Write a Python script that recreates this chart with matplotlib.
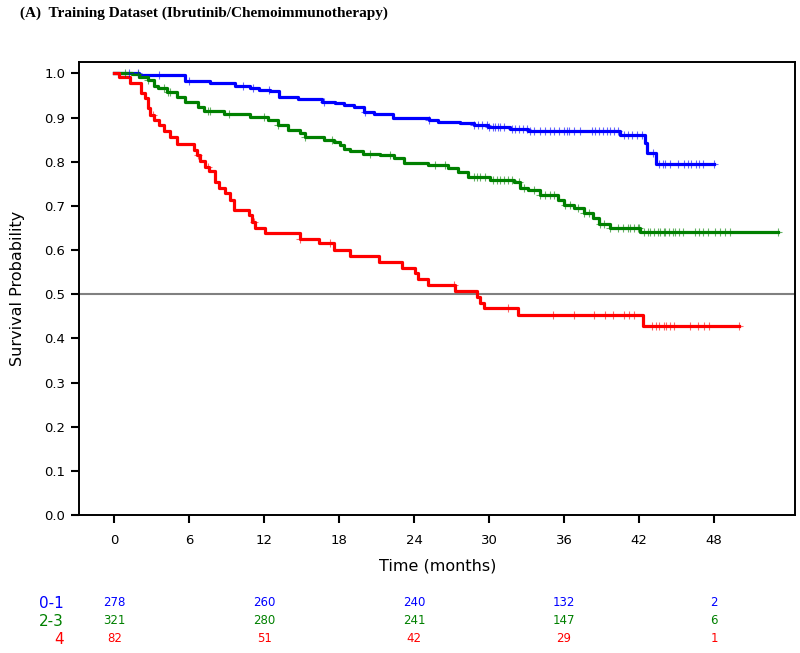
import numpy as np
import matplotlib
matplotlib.use("Agg")
import matplotlib.pyplot as plt
import matplotlib.transforms as mtrans

# Kaplan-Meier steps: time of drop (months) and survival after it
blue_t = [0, 2.0, 5.7, 7.7, 9.7, 10.9, 11.6, 12.5, 13.2, 14.7, 16.6, 17.7, 18.4, 19.2,
          20.0, 20.8, 22.3, 25.2, 25.9, 27.7, 28.8, 29.9, 31.7, 33.1, 40.5, 42.5, 42.6, 43.4]
blue_s = [1.0, 0.996, 0.982, 0.977, 0.972, 0.966, 0.963, 0.960, 0.947, 0.943, 0.936, 0.932, 0.928, 0.924,
          0.913, 0.909, 0.900, 0.894, 0.890, 0.887, 0.883, 0.879, 0.874, 0.869, 0.860, 0.842, 0.819, 0.794]
blue_end = 48.0
blue_cens = [1.2, 1.9, 3.6, 6.0, 10.3, 11.1, 12.4, 16.8, 20.1, 25.2, 28.8, 29.1, 29.4, 29.8,
             30.0, 30.3, 30.5, 30.7, 30.9, 31.2, 31.8, 32.1, 32.4, 32.7, 33.0, 33.3, 33.6, 34.1,
             34.5, 34.9, 35.2, 35.6, 36.0, 36.2, 36.4, 36.8, 37.3, 38.2, 38.5, 38.8, 39.1, 39.4,
             39.7, 40.0, 40.3, 40.8, 41.1, 41.4, 41.8, 42.2, 43.1, 43.6, 43.9, 44.1, 44.5, 45.1,
             45.6, 45.9, 46.2, 46.6, 46.8, 47.1, 48.0]

green_t = [0, 1.4, 2.0, 2.7, 3.2, 3.5, 4.2, 5.0, 5.7, 6.7, 7.2, 8.8, 10.9, 12.3, 13.1, 13.9,
           14.9, 15.3, 16.8, 17.6, 18.1, 18.4, 18.9, 19.9, 21.3, 22.4, 23.2, 25.1, 26.7, 27.5,
           28.3, 30.1, 32.0, 32.5, 33.1, 34.1, 35.5, 36.0, 36.8, 37.6, 38.3, 38.8, 39.7, 42.1]
green_s = [1.0, 0.998, 0.992, 0.985, 0.972, 0.966, 0.958, 0.947, 0.936, 0.924, 0.915, 0.909, 0.902, 0.894, 0.883, 0.872,
           0.864, 0.856, 0.849, 0.844, 0.838, 0.828, 0.824, 0.817, 0.815, 0.808, 0.798, 0.792, 0.785, 0.777,
           0.766, 0.758, 0.753, 0.740, 0.736, 0.724, 0.713, 0.702, 0.694, 0.683, 0.672, 0.660, 0.649, 0.640]
green_end = 53.1
green_cens = [0.9, 1.9, 2.7, 4.0, 4.3, 4.5, 7.5, 7.7, 9.2, 12.0, 13.1, 15.3, 17.4, 20.5, 22.1,
              25.7, 26.5, 28.8, 29.0, 29.3, 29.7, 30.3, 30.6, 30.9, 31.2, 31.5, 31.8, 32.4, 32.8,
              33.6, 34.1, 34.5, 34.9, 35.2, 36.1, 36.5, 37.1, 37.6, 38.0, 38.9, 39.2, 39.7, 40.3,
              40.7, 41.1, 41.3, 41.6, 41.9, 42.0, 42.4, 42.7, 42.9, 43.2, 43.5, 43.7, 44.0, 44.1,
              44.4, 44.7, 44.9, 45.2, 45.5, 46.5, 46.8, 47.1, 47.5, 48.1, 48.5, 48.9, 49.3, 53.1]

red_t = [0, 0.37, 1.3, 2.16, 2.5, 2.72, 2.9, 3.17, 3.57, 3.97, 4.5, 5.04, 6.37, 6.64, 6.9,
         7.3, 7.57, 8.1, 8.37, 8.9, 9.3, 9.57, 10.8, 11.05, 11.3, 12.1, 14.9, 16.4, 17.6, 18.9,
         21.2, 23.0, 24.1, 24.3, 25.1, 27.3, 29.0, 29.3, 29.6, 32.3, 42.3]
red_s = [1.0, 0.992, 0.979, 0.955, 0.945, 0.921, 0.906, 0.894, 0.883, 0.869, 0.856, 0.841, 0.826, 0.815, 0.801,
         0.789, 0.779, 0.755, 0.741, 0.728, 0.713, 0.690, 0.679, 0.664, 0.650, 0.639, 0.626, 0.615, 0.600, 0.587,
         0.573, 0.560, 0.547, 0.534, 0.521, 0.507, 0.494, 0.481, 0.468, 0.453, 0.429]
red_end = 50.0
red_cens = [3.1, 6.7, 7.5, 11.2, 14.9, 17.3, 27.2, 31.5, 35.1, 36.8, 38.4, 39.3, 39.9, 40.8,
            41.2, 41.6, 43.0, 43.4, 43.6, 44.0, 44.2, 44.5, 44.8, 46.1, 46.7, 47.2, 47.6, 50.0]

groups = ["0-1", "2-3", "4"]
risk_times = [0, 12, 24, 36, 48]
risk_blue = [278, 260, 240, 132, 2]
risk_green = [321, 280, 241, 147, 6]
risk_red = [82, 51, 42, 29, 1]

colors = ["#0000ff", "#008000", "#ff0000"]

fig = plt.figure(figsize=(8, 6.53), dpi=100)
ax = fig.add_axes([0.099, 0.2113, 0.895, 0.6933])

series = [(blue_t, blue_s, blue_end, blue_cens),
          (green_t, green_s, green_end, green_cens),
          (red_t, red_s, red_end, red_cens)]

for (t, s, end, cens), c in zip(series, colors):
    tt = list(t) + [end]
    ss = list(s) + [s[-1]]
    ax.step(tt, ss, where="post", color=c, lw=2.3, zorder=3)
    # censor marks sit on the curve value at each censoring time
    idx = np.searchsorted(t, cens, side="right") - 1
    cy = np.array(s)[idx]
    ax.plot(cens, cy, ls="none", marker="+", ms=6, mew=0.8, color=c, alpha=0.6, zorder=4)

ax.axhline(0.5, color="#808080", lw=1.5, zorder=2)

ax.set_xlim(-2.8, 54.5)
ax.set_ylim(0, 1.025)
ax.set_xticks([0, 6, 12, 18, 24, 30, 36, 42, 48])
ax.set_yticks(np.arange(0, 1.01, 0.1))
ax.yaxis.set_major_formatter(matplotlib.ticker.FormatStrFormatter("%.1f"))
ax.tick_params(direction="out", length=6, width=1.5, labelsize=9.5, pad=4)
ax.tick_params(axis="x", pad=8)
for sp in ax.spines.values():
    sp.set_linewidth(1.4)

ax.set_xlabel("Time (months)", fontsize=11.5, labelpad=8)
ax.set_ylabel("Survival Probability", fontsize=11.5, labelpad=14)

fig.text(0.025, 0.979, "(A)  Training Dataset (Ibrutinib/Chemoimmunotherapy)",
         fontsize=11, fontweight="bold", family="Liberation Serif", va="center", ha="left")

# number at risk table
trans = mtrans.blended_transform_factory(ax.transData, fig.transFigure)
row_y = [1 - 603 / 653, 1 - 621 / 653, 1 - 639 / 653]
for g, c, y, vals in zip(groups, colors, row_y, [risk_blue, risk_green, risk_red]):
    fig.text(0.08, y, g, color=c, fontsize=11, ha="right", va="center")
    for x, v in zip(risk_times, vals):
        ax.text(x, y, str(v), color=c, fontsize=8.5, ha="center", va="center",
                transform=trans, clip_on=False)

fig.savefig("out.png", dpi=100)
